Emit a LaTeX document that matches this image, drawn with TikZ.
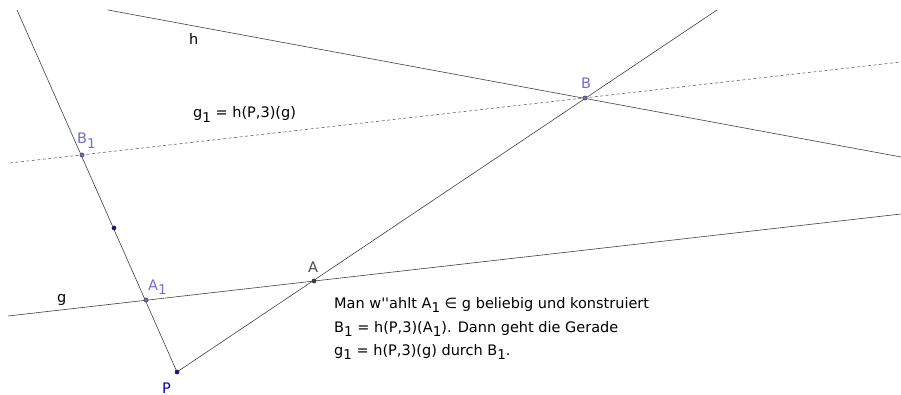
\documentclass[tikz,border=0pt]{standalone}
\usepackage{fontspec}
\setmainfont{DejaVu Sans}[Ligatures=TeXOff]
\definecolor{lineg}{HTML}{404040}
\definecolor{lpur}{HTML}{6E6ED2}
\definecolor{dblue}{HTML}{1010A0}
\definecolor{pblue}{HTML}{0000C0}
\newcommand{\sbs}[1]{\raisebox{-4.2pt}{\fontsize{13.5}{13.5}\selectfont #1}}
\tikzset{
  ln/.style={draw=lineg, line width=0.6pt},
  dln/.style={draw=lineg!80, line width=0.6pt, dash pattern=on 3pt off 2.5pt},
  pt/.style={circle, inner sep=0pt, minimum size=4.2pt, draw=black!80, line width=0.4pt},
  lbl/.style={inner sep=0pt, font=\fontsize{14.5}{14.5}\selectfont},
}
\begin{document}
\begin{tikzpicture}[x=1pt,y=-1pt]
\useasboundingbox (0,0) rectangle (901,395);
% coordinates
\coordinate (Tl) at (17,10);
\coordinate (Te) at (717,10);
\coordinate (gL) at (8,316);
\coordinate (gR) at (901,214);
\coordinate (g1L) at (10,163);
\coordinate (g1R) at (901,62);
\coordinate (hL) at (108,10);
\coordinate (hR) at (901,157);
% lines
\draw[ln] (hL) -- (hR);
\draw[dln] (g1L) -- (g1R);
\draw[ln] (gL) -- (gR);
\draw[ln] (177,372) coordinate (Pc) -- (Tl);
\draw[ln] (Pc) -- (Te);
% points
\node[pt, fill=dblue] (P) at (Pc) {};
\node[pt, fill=dblue] (M) at (114,228) {};
\node[pt, fill=lpur] (A1) at (146,300) {};
\node[pt, fill=lpur] (B1) at (82,155) {};
\node[pt, fill=black!75] (A) at (314,281) {};
\node[pt, fill=lpur] (B) at (585,98) {};
% labels
\node[lbl, anchor=base west, text=lpur] (lB1) at (77,144) {B\sbs{1}};
\node[lbl, anchor=base west, text=lpur] (lA1) at (148,290) {A\sbs{1}};
\node[lbl, anchor=base west, text=black!70] (lA) at (308,272) {A};
\node[lbl, anchor=base west, text=lpur] (lB) at (581,89) {B};
\node[lbl, anchor=base west, text=pblue] (lP) at (162,393) {P};
\node[lbl, anchor=base west] (lg) at (57,302) {g};
\node[lbl, anchor=base west] (lh) at (189,45) {h};
\node[lbl, anchor=base west] (lg1) at (193,118) {g\sbs{1} = h(P,3)(g)};
\node[lbl, anchor=base west] (txt) at (334,308.5) {Man w''ahlt A\sbs{1} ∈ g beliebig und konstruiert};
\node[lbl, anchor=base west] (txt2) at (334,332) {B\sbs{1} = h(P,3)(A\sbs{1}). Dann geht die Gerade};
\node[lbl, anchor=base west] (txt3) at (334,355.5) {g\sbs{1} = h(P,3)(g) durch B\sbs{1}.};
\end{tikzpicture}
\end{document}
